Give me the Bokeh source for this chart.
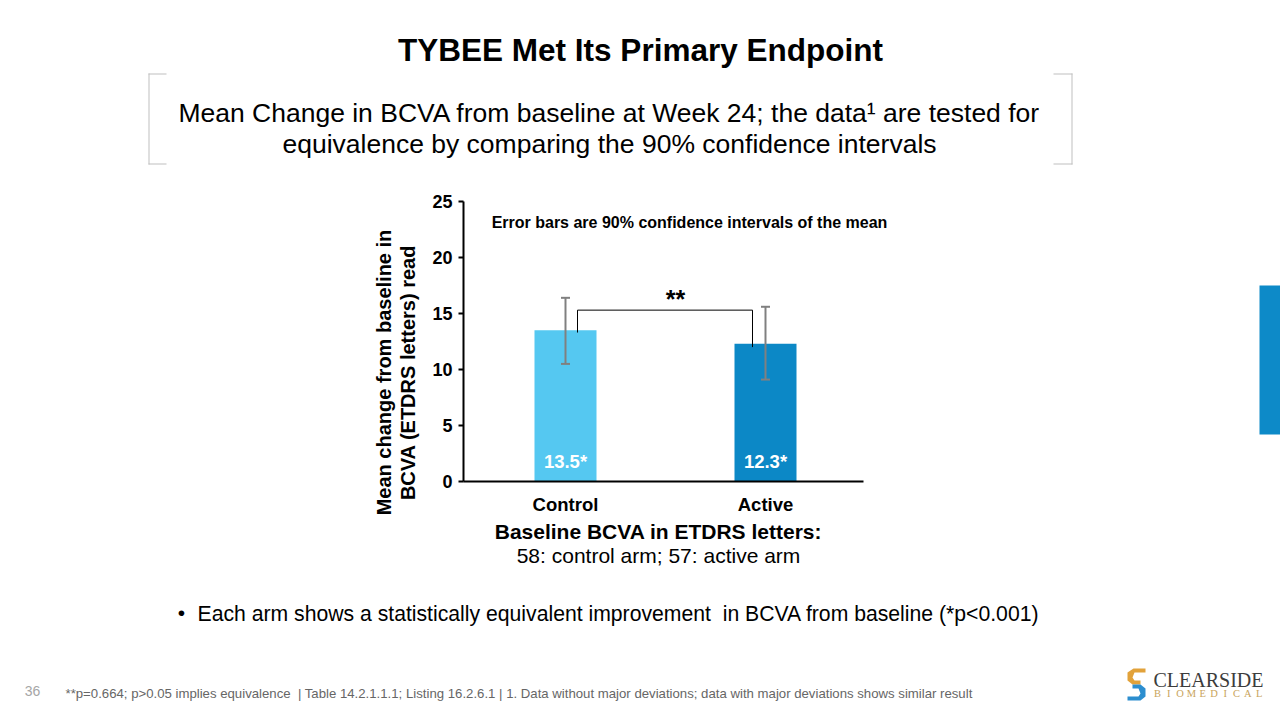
import math
from bokeh.plotting import figure
from bokeh.models import (Label, BoxAnnotation, PolyAnnotation, Whisker, TeeHead,
                          ColumnDataSource, FixedTicker, Range1d, LinearAxis)
from bokeh.core.properties import value
from bokeh.embed import file_html
from bokeh.resources import INLINE

# ---------------- data ----------------
arms = ["Control", "Active"]
mean_change = [13.5, 12.3]
ci_lower = [10.5, 9.1]
ci_upper = [16.4, 15.6]
bar_colors = ["#55C8F1", "#0C88C6"]
y_ticks = [0, 5, 10, 15, 20, 25]
bracket_top = 15.3
bracket_left_bottom = 13.3
bracket_right_bottom = 12.0
bar_value_labels = [f"{v}*" for v in mean_change]

# ---------------- layout (page px) ----------------
W, H = 1280, 720
X0_PX, PX_PER_CAT = 465, 200.0      # category axis origin and width of one category
Y0_PX, PX_PER_UNIT = 481, 11.2      # value axis origin and scale
AX_LEFT_PX, AX_RIGHT_PX = 463, 863

x_start = -X0_PX / PX_PER_CAT
x_end = (W - X0_PX) / PX_PER_CAT
y_start = -(H - Y0_PX) / PX_PER_UNIT
y_end = Y0_PX / PX_PER_UNIT

p = figure(width=W, height=H, title=None,
           x_range=Range1d(x_start, x_end), y_range=Range1d(y_start, y_end),
           x_axis_location=None, y_axis_location=None,
           output_backend="svg", toolbar_location=None,
           min_border=0)
p.outline_line_color = None
p.grid.visible = False
p.background_fill_color = "white"
p.border_fill_color = "white"

xpos = [i + 0.5 for i in range(len(arms))]
src = ColumnDataSource(dict(x=xpos, mean=mean_change, lower=ci_lower,
                            upper=ci_upper, color=bar_colors,
                            lab=bar_value_labels, ly=[1.8] * len(arms)))

p.vbar(x="x", top="mean", width=0.31, fill_color="color", line_color=None, source=src)

p.text(x="x", y="ly", text="lab", source=src, text_color="white",
       text_font=value("Liberation Sans"), text_font_style="bold",
       text_font_size="18.5px", text_align="center", text_baseline="middle")

err_col = "#808080"
wh = Whisker(base="x", upper="upper", lower="lower", source=src, level="overlay",
             line_color=err_col, line_width=2,
             upper_head=TeeHead(size=9, line_color=err_col, line_width=2),
             lower_head=TeeHead(size=9, line_color=err_col, line_width=2))
p.add_layout(wh)

# significance bracket
bx_l = xpos[0] + 0.06
bx_r = xpos[1] - 0.065
p.segment(x0=[bx_l, bx_l, bx_r], x1=[bx_l, bx_r, bx_r],
          y0=[bracket_left_bottom, bracket_top, bracket_top],
          y1=[bracket_top, bracket_top, bracket_right_bottom],
          line_color="black", line_width=1)

# axes (fixed inside the page-wide frame)
yax = LinearAxis(fixed_location=(AX_LEFT_PX - X0_PX) / PX_PER_CAT, bounds=(0, 25),
                 ticker=FixedTicker(ticks=y_ticks))
yax.minor_tick_line_color = None
yax.major_tick_in = 0
yax.major_tick_out = 5
yax.major_tick_line_width = 2
yax.axis_line_width = 2
yax.axis_line_color = "black"
yax.major_tick_line_color = "black"
yax.major_label_standoff = 6
yax.major_label_text_font = "Liberation Sans"
yax.major_label_text_font_style = "bold"
yax.major_label_text_font_size = "18px"
yax.major_label_text_color = "black"
p.add_layout(yax, "left")

xax = LinearAxis(fixed_location=0,
                 bounds=((AX_LEFT_PX - X0_PX) / PX_PER_CAT, (AX_RIGHT_PX - X0_PX) / PX_PER_CAT),
                 ticker=FixedTicker(ticks=xpos),
                 major_label_overrides={x: a for x, a in zip(xpos, arms)})
xax.minor_tick_line_color = None
xax.major_tick_in = 0
xax.major_tick_out = 0
xax.axis_line_width = 2
xax.axis_line_color = "black"
xax.major_label_standoff = 12
xax.major_label_text_font = "Liberation Sans"
xax.major_label_text_font_style = "bold"
xax.major_label_text_font_size = "18.5px"
xax.major_label_text_color = "black"
p.add_layout(xax, "below")


def lab(text, px, py, size, bold=False, color="black", align="center",
        angle=0.0, font="Liberation Sans"):
    p.add_layout(Label(x=px, y=H - py, x_units="screen", y_units="screen", text=text,
                       text_font_size=f"{size}px", text_font=font,
                       text_font_style="bold" if bold else "normal",
                       text_color=color, text_align=align, text_baseline="middle",
                       angle=angle))


def box(l, r, t, b, color):
    p.add_layout(BoxAnnotation(left=l, right=r, top=H - t, bottom=H - b,
                               left_units="screen", right_units="screen",
                               top_units="screen", bottom_units="screen",
                               fill_color=color, fill_alpha=1, line_color=None,
                               level="overlay"))


def poly(pts, color):
    p.add_layout(PolyAnnotation(xs=[x for x, _ in pts], ys=[H - y for _, y in pts],
                                xs_units="screen", ys_units="screen",
                                fill_color=color, fill_alpha=1, line_color=None))


# titles
lab("TYBEE Met Its Primary Endpoint", 640, 49, 31.5, bold=True)
lab("Mean Change in BCVA from baseline at Week 24; the data\u00b9 are tested for", 609, 112, 26.5)
lab("equivalence by comparing the 90% confidence intervals", 609, 143, 26.5)

# subtitle brackets
gray = "#BFBFBF"
box(148, 149, 73, 164, gray)
box(148, 166, 73, 74, gray)
box(148, 166, 163, 164, gray)
box(1071, 1072, 73, 164, gray)
box(1053, 1072, 73, 74, gray)
box(1053, 1072, 163, 164, gray)

# chart annotations
lab("Error bars are 90% confidence intervals of the mean", 689, 222, 16, bold=True)
lab("**", 675, 298, 25, bold=True)
lab("Mean change from baseline in", 383, 372, 20, bold=True, angle=math.pi / 2)
lab("BCVA (ETDRS letters) read", 407, 372, 20, bold=True, angle=math.pi / 2)
lab("Baseline BCVA in ETDRS letters:", 658, 531, 21, bold=True)
lab("58: control arm; 57: active arm", 658, 555, 21)

# bullet
lab("\u2022", 181, 612, 21)
lab("Each arm shows a statistically equivalent improvement\u00a0 in BCVA from baseline (*p<0.001)",
    197, 613, 21.2, align="left")

# footer
lab("36", 32, 690, 14, color="#A6A6A6")
lab("**p=0.664; p>0.05 implies equivalence\u00a0 | Table 14.2.1.1.1; Listing 16.2.6.1 | "
    "1. Data without major deviations; data with major deviations shows similar result",
    65, 693, 13.2, align="left", color="#666666")

# side accent bar
box(1259, 1280, 285, 434, "#0D8AC8")

# logo
poly([(1145, 668), (1133, 668), (1127, 672), (1127, 680), (1132, 684), (1140, 684),
      (1140, 680), (1134, 680), (1132, 677), (1134, 672), (1145, 672)], "#E2A23A")
poly([(1132, 684), (1140, 684), (1145, 688), (1145, 696), (1140, 700), (1127, 700),
      (1127, 696), (1138, 696), (1140, 693), (1138, 688), (1132, 688)], "#2C8ECF")
lab("CLEARSIDE", 1153, 679, 20, color="#3C3C3C", align="left", font="Liberation Serif")
for i, ch in enumerate("BIOMEDICAL"):
    lab(ch, 1157 + i * 11.3, 693, 10.5, color="#C9A45C", font="Liberation Serif")

open("out.html", "w").write(file_html(p, INLINE))
